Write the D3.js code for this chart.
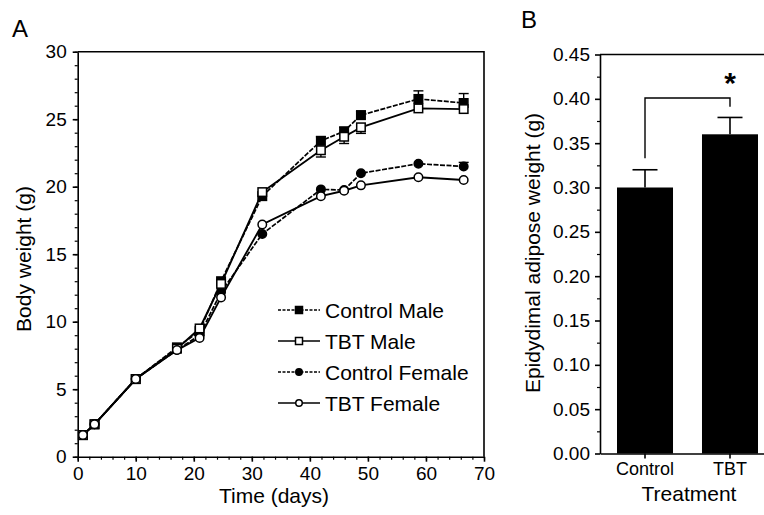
<!DOCTYPE html>
<html>
<head>
<meta charset="utf-8">
<script src="https://cdn.jsdelivr.net/npm/d3@7/dist/d3.min.js"></script>
<style>
  html, body { margin: 0; padding: 0; background: #fff; }
  svg text { font-family: "Liberation Sans", Arial, sans-serif; fill: #000; }
</style>
</head>
<body>
<svg id="chart" width="764" height="515"></svg>
<script>
// ---- Panel A data ----
const days = [0.9, 2.9, 10, 17.1, 21, 24.7, 31.8, 41.9, 45.9, 48.8, 58.7, 66.5];
const controlMale   = [1.6, 2.4, 5.75, 8.1, 9.3, 13.0, 19.3, 23.4, 24.1, 25.3, 26.5, 26.2];
const tbtMale       = [1.6, 2.4, 5.75, 8.0, 9.5, 12.8, 19.6, 22.7, 23.7, 24.4, 25.8, 25.75];
const controlFemale = [1.6, 2.4, 5.75, 7.9, 9.0, 12.2, 16.5, 19.8, 19.75, 21.0, 21.7, 21.5];
const tbtFemale     = [1.6, 2.4, 5.75, 7.9, 8.8, 11.8, 17.2, 19.3, 19.7, 20.1, 20.7, 20.5];
const controlMaleErr   = [0, 0, 0, 0, 0, 0, 0, 0.3, 0.3, 0.3, 0.6, 0.7];
const tbtMaleErr       = [0, 0, 0, 0, 0, 0, 0, 0.5, 0.5, 0.45, 0, 0];
const controlFemaleErr = [0, 0, 0, 0, 0, 0, 0, 0, 0, 0, 0, 0.3];
const tbtFemaleErr     = [0, 0, 0, 0, 0, 0, 0, 0, 0, 0, 0, 0];
const seriesNames = ["Control Male", "TBT Male", "Control Female", "TBT Female"];
const xTicksA = [0, 10, 20, 30, 40, 50, 60, 70];
const yTicksA = [0, 5, 10, 15, 20, 25, 30];

// ---- Panel B data ----
const treatments = ["Control", "TBT"];
const adipose = [0.30, 0.36];
const adiposeErr = [0.02, 0.019];
const yTicksB = [0, 0.05, 0.10, 0.15, 0.20, 0.25, 0.30, 0.35, 0.40, 0.45];
const bracketLevel = 0.401;
const bracketLegs = [0.333, 0.391];

const svg = d3.select("#chart");

// ================= Panel A =================
const xA = d3.scaleLinear().domain([0, 70]).range([77.7, 484]);
const yA = d3.scaleLinear().domain([0, 30]).range([456.7, 51.7]);
const gA = svg.append("g");

// frame (top/right)
gA.append("path")
  .attr("d", `M${xA(0)},${yA(30)}H${xA(70)}V${yA(0)}`)
  .attr("fill", "none").attr("stroke", "#000").attr("stroke-width", 1.6);

// minor ticks
gA.append("g").attr("transform", `translate(0,${yA(0)})`)
  .call(d3.axisBottom(xA).tickValues(d3.range(0, 71, 2)).tickSize(3).tickFormat(""))
  .call(g => g.select(".domain").remove())
  .call(g => g.selectAll("line").attr("stroke-width", 1.2));
gA.append("g").attr("transform", `translate(${xA(0)},0)`)
  .call(d3.axisLeft(yA).tickValues(d3.range(0, 31, 1)).tickSize(3).tickFormat(""))
  .call(g => g.select(".domain").remove())
  .call(g => g.selectAll("line").attr("stroke-width", 1.2));

// major axes
const axBA = gA.append("g").attr("transform", `translate(0,${yA(0)})`)
  .call(d3.axisBottom(xA).tickValues(xTicksA).tickSize(5).tickPadding(5).tickSizeOuter(0));
const axLA = gA.append("g").attr("transform", `translate(${xA(0)},0)`)
  .call(d3.axisLeft(yA).tickValues(yTicksA).tickSize(5).tickPadding(6).tickSizeOuter(0));
[axBA, axLA].forEach(a => {
  a.selectAll("text").attr("font-size", 19).attr("font-family", "Liberation Sans, Arial, sans-serif");
  a.selectAll("line, path").attr("stroke-width", 1.6);
});

const seriesDefs = [
  { name: seriesNames[0], vals: controlMale, err: controlMaleErr, dir: 1, shape: "square", fill: "#000", dash: "5,1.5", sw: 1.7 },
  { name: seriesNames[1], vals: tbtMale, err: tbtMaleErr, dir: -1, shape: "square", fill: "#fff", dash: null, sw: 1.9 },
  { name: seriesNames[2], vals: controlFemale, err: controlFemaleErr, dir: 1, shape: "circle", fill: "#000", dash: "5,1.5", sw: 1.7 },
  { name: seriesNames[3], vals: tbtFemale, err: tbtFemaleErr, dir: -1, shape: "circle", fill: "#fff", dash: null, sw: 1.9 }
];

const line = d3.line().x(d => xA(d[0])).y(d => yA(d[1]));

// error bars
seriesDefs.forEach(s => {
  days.forEach((d, i) => {
    const e = s.err[i];
    if (e <= 0) return;
    const x = xA(d), y0 = yA(s.vals[i]), y1 = yA(s.vals[i] + s.dir * e);
    gA.append("line").attr("x1", x).attr("x2", x).attr("y1", y0).attr("y2", y1)
      .attr("stroke", "#000").attr("stroke-width", 1.4);
    gA.append("line").attr("x1", x - 5).attr("x2", x + 5).attr("y1", y1).attr("y2", y1)
      .attr("stroke", "#000").attr("stroke-width", 1.4);
  });
});

// lines
seriesDefs.forEach(s => {
  gA.append("path").datum(days.map((d, i) => [d, s.vals[i]]))
    .attr("d", line).attr("fill", "none").attr("stroke", "#000")
    .attr("stroke-width", s.sw).attr("stroke-dasharray", s.dash);
});

function drawMarker(g, shape, fill, x, y, size) {
  if (shape === "square") {
    g.append("rect").attr("x", x - size / 2).attr("y", y - size / 2)
      .attr("width", size).attr("height", size)
      .attr("fill", fill).attr("stroke", "#000").attr("stroke-width", 1.5);
  } else {
    g.append("circle").attr("cx", x).attr("cy", y).attr("r", size / 2)
      .attr("fill", fill).attr("stroke", "#000").attr("stroke-width", 1.5);
  }
}

// markers
const markerOrder = [0, 2, 1, 3];
markerOrder.forEach(k => {
  const s = seriesDefs[k];
  days.forEach((d, i) => drawMarker(gA, s.shape, s.fill, xA(d), yA(s.vals[i]), s.shape === "square" ? 8.5 : 8.5));
});

// legend
const legendY = [310, 341, 372, 403];
seriesDefs.forEach((s, i) => {
  const y = legendY[i];
  gA.append("line").attr("x1", 278).attr("x2", 320).attr("y1", y).attr("y2", y)
    .attr("stroke", "#000").attr("stroke-width", s.sw - 0.3).attr("stroke-dasharray", s.dash ? "3,1.5" : null);
  drawMarker(gA, s.shape, s.fill, 299, y, s.shape === "square" ? 7 : 6.5);
  gA.append("text").attr("x", 325).attr("y", y).attr("dy", "0.36em")
    .attr("font-size", 21).text(s.name);
});

// titles
gA.append("text").attr("x", 274).attr("y", 503).attr("text-anchor", "middle")
  .attr("font-size", 21).text("Time (days)");
gA.append("text").attr("transform", `translate(31,259) rotate(-90)`)
  .attr("text-anchor", "middle").attr("font-size", 21).text("Body weight (g)");
gA.append("text").attr("x", 12).attr("y", 37).attr("font-size", 24).text("A");

// ================= Panel B =================
const xB = d3.scaleBand().domain(treatments).range([600, 775]).paddingInner(0.341).paddingOuter(0.2);
const yB = d3.scaleLinear().domain([0, 0.45]).range([453.5, 54.5]);
const gB = svg.append("g");

// top frame line
gB.append("line").attr("x1", 600).attr("x2", 775).attr("y1", yB(0.45)).attr("y2", yB(0.45))
  .attr("stroke", "#000").attr("stroke-width", 1.6);

// minor ticks
gB.append("g").attr("transform", `translate(600,0)`)
  .call(d3.axisLeft(yB).tickValues(d3.range(0, 18).map(i => 0.025 + i * 0.05).filter(v => v < 0.45)).tickSize(3).tickFormat(""))
  .call(g => g.select(".domain").remove())
  .call(g => g.selectAll("line").attr("stroke-width", 1.2));

// bars
gB.selectAll("rect.bar").data(treatments).enter().append("rect")
  .attr("x", d => xB(d)).attr("width", xB.bandwidth())
  .attr("y", (d, i) => yB(adipose[i])).attr("height", (d, i) => yB(0) - yB(adipose[i]))
  .attr("fill", "#000");

// error bars
treatments.forEach((t, i) => {
  const cx = xB(t) + xB.bandwidth() / 2;
  const top = yB(adipose[i] + adiposeErr[i]);
  gB.append("line").attr("x1", cx).attr("x2", cx).attr("y1", yB(adipose[i])).attr("y2", top)
    .attr("stroke", "#000").attr("stroke-width", 1.6);
  gB.append("line").attr("x1", cx - 12.5).attr("x2", cx + 12.5).attr("y1", top).attr("y2", top)
    .attr("stroke", "#000").attr("stroke-width", 1.6);
});

// axes
const axLB = gB.append("g").attr("transform", `translate(600,0)`)
  .call(d3.axisLeft(yB).tickValues(yTicksB).tickFormat(d3.format(".2f")).tickSize(5).tickPadding(5).tickSizeOuter(0));
const axBB = gB.append("g").attr("transform", `translate(0,${yB(0)})`)
  .call(d3.axisBottom(xB).tickSize(5).tickPadding(4).tickSizeOuter(0));
[axLB, axBB].forEach(a => {
  a.selectAll("text").attr("font-size", 19).attr("font-family", "Liberation Sans, Arial, sans-serif");
  a.selectAll("line, path").attr("stroke-width", 1.6);
});
axBB.selectAll("text").attr("font-size", 18);

// significance bracket
const c0 = xB(treatments[0]) + xB.bandwidth() / 2;
const c1 = xB(treatments[1]) + xB.bandwidth() / 2;
gB.append("path")
  .attr("d", `M${c0},${yB(bracketLegs[0])}V${yB(bracketLevel)}H${c1}V${yB(bracketLegs[1])}`)
  .attr("fill", "none").attr("stroke", "#000").attr("stroke-width", 1.4);
gB.append("text").attr("x", c1).attr("y", 93).attr("text-anchor", "middle")
  .attr("font-size", 30).attr("font-weight", "bold").text("*");

// titles
gB.append("text").attr("x", 689).attr("y", 501).attr("text-anchor", "middle")
  .attr("font-size", 21).text("Treatment");
gB.append("text").attr("transform", `translate(540,253) rotate(-90)`)
  .attr("text-anchor", "middle").attr("font-size", 21).text("Epidydimal adipose weight (g)");
gB.append("text").attr("x", 521).attr("y", 28).attr("font-size", 24).text("B");
</script>
</body>
</html>
